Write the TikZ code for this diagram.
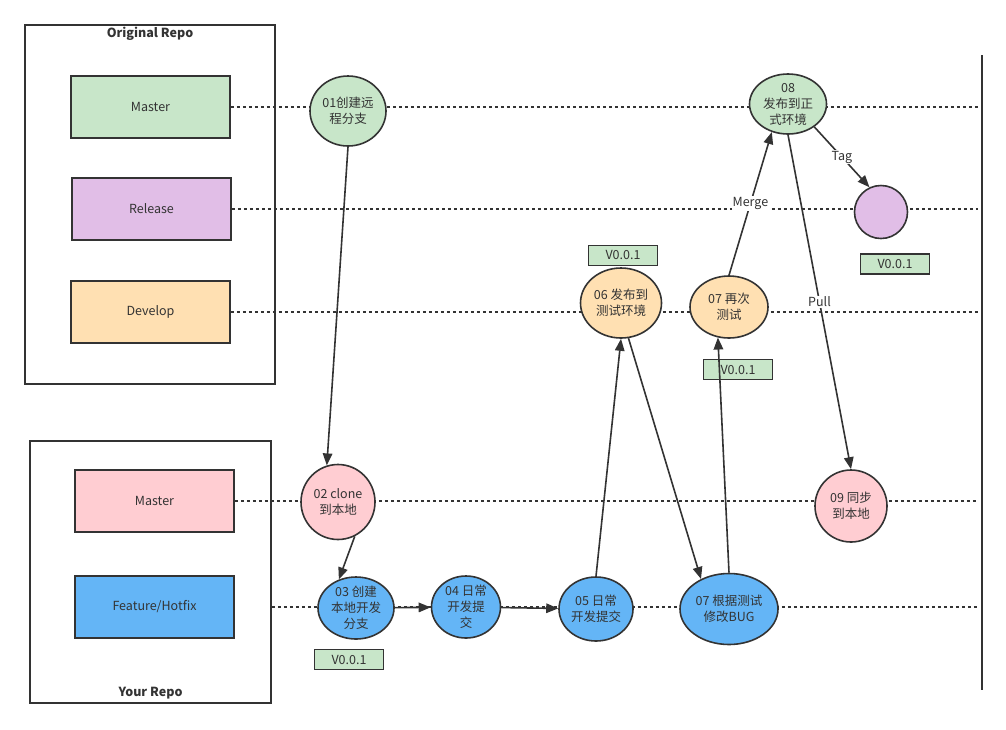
\documentclass[tikz,border=0pt]{standalone}
\usepackage{fontspec}
\setmainfont{Noto Sans CJK SC}
\usetikzlibrary{arrows.meta, shapes.geometric, positioning}

\definecolor{ink}{HTML}{333333}
\definecolor{mgreen}{HTML}{C8E6C9}
\definecolor{rpurple}{HTML}{E1BEE7}
\definecolor{dorange}{HTML}{FFE0B2}
\definecolor{lpink}{HTML}{FFCDD2}
\definecolor{fblue}{HTML}{64B5F6}

\begin{document}
\begin{tikzpicture}[x=1pt, y=-1pt, >={Triangle[length=12pt, width=9.5pt]}, line width=1.6pt, draw=ink, text=ink,
    font=\fontsize{12.5}{16}\selectfont,
    repo/.style={rectangle, draw=ink, fill=white, inner sep=0pt},
    branch/.style={rectangle, draw=ink, minimum width=159pt, minimum height=62pt, inner sep=0pt},
    commit/.style={ellipse, draw=ink, inner sep=0pt, align=center},
    tagbox/.style={rectangle, draw=ink, fill=mgreen, minimum width=69pt, minimum height=20pt, inner sep=0pt},
    lane/.style={draw=ink, dash pattern=on 3pt off 3pt},
    flow/.style={->, draw=ink},
    lbl/.style={fill=white, inner sep=1pt}]
     \useasboundingbox (0,0) rectangle (1006,729);

     % repositories
     \node[repo, minimum width=250pt, minimum height=359pt] (orig) at (150,204.5) {};
     \node[repo, minimum width=241pt, minimum height=262pt] (your) at (150.5,572) {};
     \node[font=\fontsize{12.5}{16}\selectfont\bfseries] at ([yshift=-10pt]orig.north) {Original Repo};
     \node[font=\fontsize{12.5}{16}\selectfont\bfseries] at ([yshift=11pt]your.south) {Your Repo};

     \node[branch, fill=mgreen]  (omaster)  at (150.5,107) {Master};
     \node[branch, fill=rpurple] (orelease) at (151.5,209) {Release};
     \node[branch, fill=dorange] (odevelop) at (150.5,312) {Develop};
     \node[branch, fill=lpink]   (ymaster)  at (154.5,501) {Master};
     \node[branch, fill=fblue]   (yfeature) at (154.5,607) {Feature/Hotfix};

     % lanes
     \coordinate (rail)    at (978,0);
     \coordinate (railtop) at (982,55);
     \coordinate (railbot) at (982,690);
     \draw[line width=1.6pt] (railtop) -- (railbot);
     \draw[lane] (omaster.east)  -- (omaster.east -| rail);
     \draw[lane] (orelease.east) -- (orelease.east -| rail);
     \draw[lane] (odevelop.east) -- (odevelop.east -| rail);
     \draw[lane] (ymaster.east)  -- (ymaster.east -| rail);
     \draw[lane] (yfeature.east -| your.east) -- (yfeature.east -| rail);

     % commits
     \node[commit, fill=mgreen,  minimum width=76pt, minimum height=70pt] (c01) at (348,111) {01创建远\\程分支};
     \node[commit, fill=lpink,   minimum width=74pt, minimum height=75pt] (c02) at (338,502) {02 clone\\到本地};
     \node[commit, fill=fblue,   minimum width=76pt, minimum height=62pt] (c03) at (356,608) {03 创建\\本地开发\\分支};
     \node[commit, fill=fblue,   minimum width=69pt, minimum height=62pt] (c04) at (466,607) {04 日常\\开发提\\交};
     \node[commit, fill=fblue,   minimum width=74pt, minimum height=64pt] (c05) at (596,609) {05 日常\\开发提交};
     \node[commit, fill=dorange, minimum width=81pt, minimum height=70pt] (c06) at (621,303) {06 发布到\\测试环境};
     \node[commit, fill=fblue,   minimum width=98pt, minimum height=71pt] (c07b) at (729,609) {07 根据测试\\修改BUG};
     \node[commit, fill=dorange, minimum width=78pt, minimum height=62pt] (c07) at (729,307) {07 再次\\测试};
     \node[commit, fill=mgreen,  minimum width=77pt, minimum height=60pt] (c08) at (788,104) {08\\发布到正\\式环境};
     \node[commit, fill=rpurple, minimum width=53pt, minimum height=53pt] (rel) at (881,212) {};
     \node[commit, fill=lpink,   minimum width=72pt, minimum height=72pt] (c09) at (851,506) {09 同步\\到本地};

     % tags
     \node[tagbox] (t03)  [below=9pt of c03, xshift=-7pt]  {V0.0.1};
     \node[tagbox] (t06)  [above=1pt of c06, xshift=2pt]   {V0.0.1};
     \node[tagbox] (t07)  [below=20pt of c07, xshift=9pt]  {V0.0.1};
     \node[tagbox] (trel) [below=14pt of rel, xshift=14pt] {V0.0.1};

     % flow
     \draw[flow] (c01.south) -- (c02.107);
     \draw[flow] (c02.-64)   -- (c03.121);
     \draw[flow] (c03)       -- (c04);
     \draw[flow] (c04)       -- (c05);
     \draw[flow] (c05.north) -- (c06.south);
     \draw[flow] (c06.-78)   -- (c07b.133);
     \draw[flow] (c07b.north) -- (c07.-110);
     \draw[flow] (c07.north) -- node[lbl] {Merge} (c08.-120);
     \draw[flow] (c08.-41)   -- node[lbl] {Tag}   (rel.115);
     \draw[flow] (c08.south) -- node[lbl] {Pull}  (c09.north);
\end{tikzpicture}
\end{document}
